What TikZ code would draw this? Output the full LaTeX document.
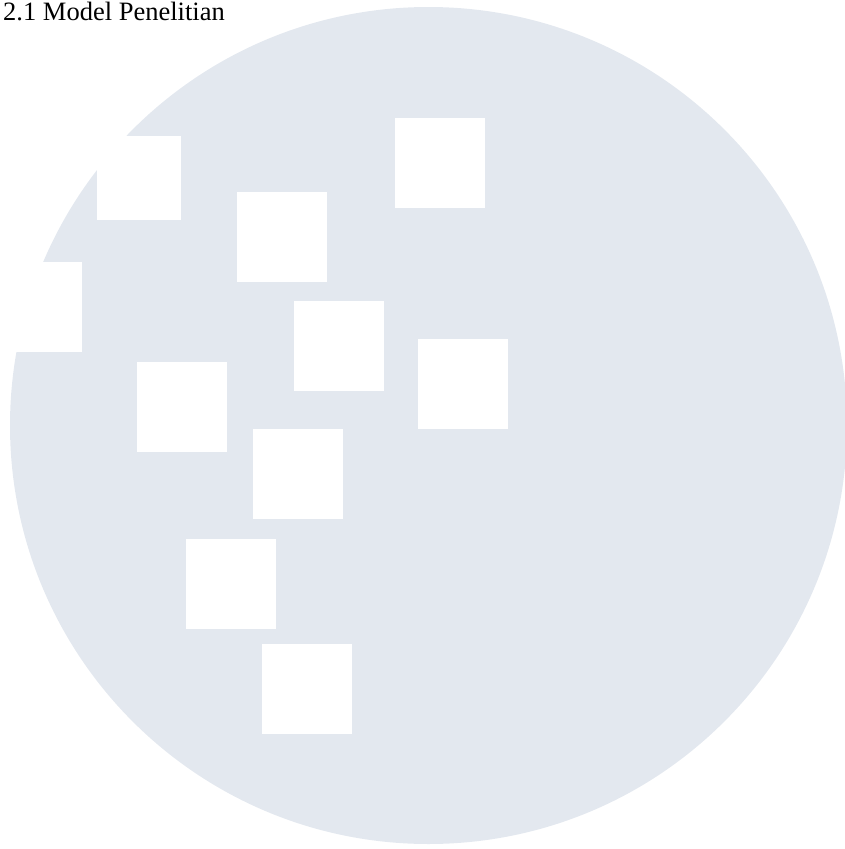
\documentclass[tikz,border=0pt]{standalone}
\usepackage{fontspec}
\setmainfont{Liberation Serif}
\definecolor{discbg}{HTML}{E3E8EF}
\tikzset{
  sq/.style={fill=white, draw=none, inner sep=0pt, outer sep=0pt, minimum width=90pt, minimum height=90pt, anchor=north west},
  title/.style={anchor=base west, inner sep=0pt, font=\fontsize{26.5}{30}\selectfont}
}
\begin{document}
\begin{tikzpicture}[x=1pt,y=-1pt]
\useasboundingbox (0,0) rectangle (845,849);
\clip (0,0) rectangle (845,849);
\fill[discbg] (428.5,425.5) circle[radius=418.5pt];
\node[sq, minimum width=84pt, minimum height=84pt] (s1) at (97,136) {};
\node[sq] (s2) at (237,192) {};
\node[sq] (s3) at (395,117.5) {};
\node[sq] (s4) at (-8,262) {};
\node[sq] (s5) at (293.5,300.5) {};
\node[sq] (s6) at (417.5,338.5) {};
\node[sq] (s7) at (137,362) {};
\node[sq] (s8) at (253,428.5) {};
\node[sq] (s9) at (185.5,538.5) {};
\node[sq] (s10) at (262,644) {};
\node[title] (t) at (3,20.5) {2.1 Model Penelitian};
\end{tikzpicture}
\end{document}
